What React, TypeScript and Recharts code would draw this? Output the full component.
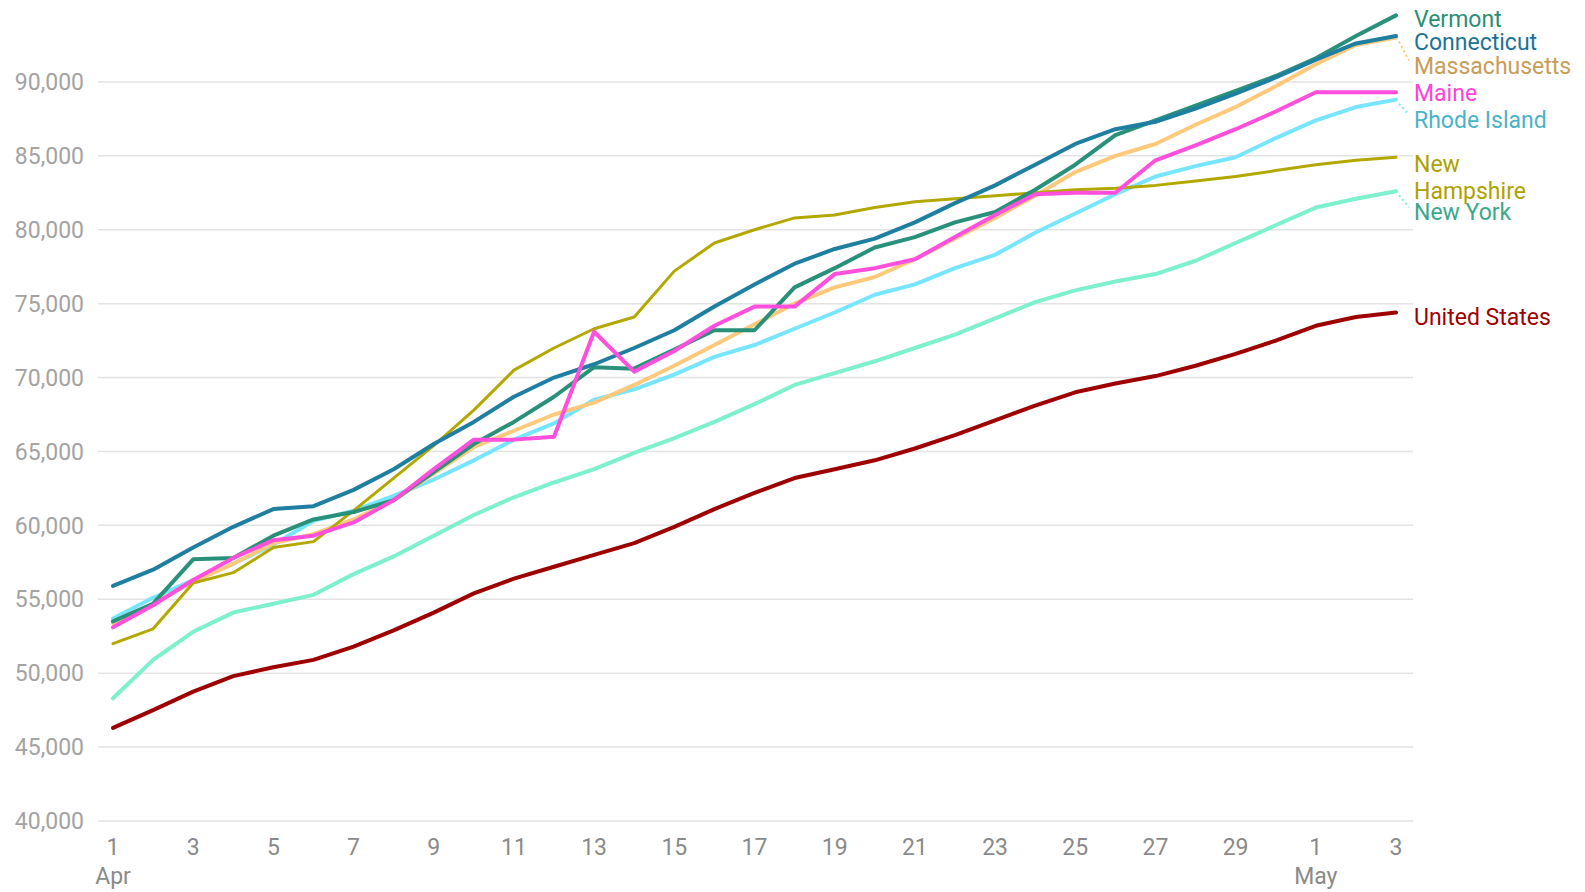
import { CartesianGrid, Line, LineChart, XAxis, YAxis } from "recharts";

const DATES = [
  "Apr 1", "Apr 2", "Apr 3", "Apr 4", "Apr 5", "Apr 6", "Apr 7", "Apr 8", "Apr 9", "Apr 10",
  "Apr 11", "Apr 12", "Apr 13", "Apr 14", "Apr 15", "Apr 16", "Apr 17", "Apr 18", "Apr 19", "Apr 20",
  "Apr 21", "Apr 22", "Apr 23", "Apr 24", "Apr 25", "Apr 26", "Apr 27", "Apr 28", "Apr 29", "Apr 30",
  "May 1", "May 2", "May 3",
];

const VERMONT = [
  53500, 54700, 57700, 57800, 59300, 60400, 60900, 61700, 63600, 65500,
  67000, 68700, 70700, 70600, 71900, 73200, 73200, 76100, 77400, 78800,
  79500, 80500, 81200, 82700, 84400, 86400, 87400, 88400, 89400, 90400,
  91600, 93100, 94500,
];
const CONNECTICUT = [
  55900, 57000, 58500, 59900, 61100, 61300, 62400, 63800, 65500, 67000,
  68700, 70000, 70900, 72000, 73200, 74800, 76300, 77700, 78700, 79400,
  80500, 81800, 83000, 84400, 85800, 86800, 87300, 88200, 89200, 90300,
  91500, 92600, 93100,
];
const MASSACHUSETTS = [
  53400, 54700, 56200, 57400, 58800, 59400, 60400, 61700, 63500, 65300,
  66400, 67500, 68300, 69500, 70800, 72200, 73600, 75000, 76100, 76800,
  78000, 79400, 80800, 82300, 83900, 85000, 85800, 87100, 88300, 89700,
  91200, 92500, 93000,
];
const MAINE = [
  53100, 54600, 56300, 57800, 59000, 59300, 60200, 61700, 63800, 65800,
  65800, 66000, 73100, 70400, 71800, 73500, 74800, 74800, 77000, 77400,
  78000, 79500, 81000, 82400, 82500, 82500, 84700, 85700, 86800, 88000,
  89300, 89300, 89300,
];
const RHODE_ISLAND = [
  53700, 55100, 56300, 57400, 58700, 60300, 61000, 62000, 63100, 64400,
  65800, 66900, 68500, 69200, 70200, 71400, 72200, 73300, 74400, 75600,
  76300, 77400, 78300, 79800, 81100, 82400, 83600, 84300, 84900, 86200,
  87400, 88300, 88800,
];
const NEW_HAMPSHIRE = [
  52000, 53000, 56100, 56800, 58500, 58900, 61000, 63200, 65400, 67800,
  70500, 72000, 73300, 74100, 77200, 79100, 80000, 80800, 81000, 81500,
  81900, 82100, 82300, 82500, 82700, 82800, 83000, 83300, 83600, 84000,
  84400, 84700, 84900,
];
const NEW_YORK = [
  48300, 50900, 52800, 54100, 54700, 55300, 56700, 57900, 59300, 60700,
  61900, 62900, 63800, 64900, 65900, 67000, 68200, 69500, 70300, 71100,
  72000, 72900, 74000, 75100, 75900, 76500, 77000, 77900, 79100, 80300,
  81500, 82100, 82600,
];
const UNITED_STATES = [
  46300, 47500, 48750, 49800, 50400, 50900, 51800, 52900, 54100, 55400,
  56400, 57200, 58000, 58800, 59900, 61100, 62200, 63200, 63800, 64400,
  65200, 66100, 67100, 68100, 69000, 69600, 70100, 70800, 71600, 72500,
  73500, 74100, 74400,
];

const Y_TICKS = [40000, 45000, 50000, 55000, 60000, 65000, 70000, 75000, 80000, 85000, 90000];

// draw order: first is at the bottom
const SERIES = [
  { key: "newYork", name: ["New York"], values: NEW_YORK },
  { key: "rhodeIsland", name: ["Rhode Island"], values: RHODE_ISLAND },
  { key: "massachusetts", name: ["Massachusetts"], values: MASSACHUSETTS },
  { key: "newHampshire", name: ["New", "Hampshire"], values: NEW_HAMPSHIRE },
  { key: "vermont", name: ["Vermont"], values: VERMONT },
  { key: "connecticut", name: ["Connecticut"], values: CONNECTICUT },
  { key: "maine", name: ["Maine"], values: MAINE },
  { key: "unitedStates", name: ["United States"], values: UNITED_STATES },
];

const STYLE: Record<string, { stroke: string; text: string; width: number; dy: number; leader?: boolean }> = {
  newYork: { stroke: "#7df0cd", text: "#3aa98a", width: 4, dy: 21, leader: true },
  rhodeIsland: { stroke: "#78e5ff", text: "#4ab3c8", width: 4, dy: 20, leader: true },
  massachusetts: { stroke: "#ffc97c", text: "#c89d58", width: 4, dy: 28, leader: true },
  newHampshire: { stroke: "#b3a800", text: "#aca200", width: 3, dy: 7 },
  vermont: { stroke: "#29917a", text: "#2a8f74", width: 4, dy: 4 },
  connecticut: { stroke: "#1f7fa1", text: "#1d7396", width: 4, dy: 6 },
  maine: { stroke: "#ff4fdc", text: "#ff42d8", width: 4, dy: 1 },
  unitedStates: { stroke: "#9e0000", text: "#a00000", width: 4, dy: 4 },
};

const FONT = "Roboto, 'Noto Sans', sans-serif";
const FONT_SIZE = 23;

const data = DATES.map((date, i) => {
  const row: Record<string, string | number> = { date };
  SERIES.forEach((s) => {
    row[s.key] = s.values[i];
  });
  return row;
});

function endLabel(key: string, lines: string[]) {
  const st = STYLE[key];
  return (props: any) => {
    const { cx, cy, index } = props;
    if (index !== DATES.length - 1) return <g key={`${key}-${index}`} />;
    const ty = cy + st.dy;
    return (
      <g key={`${key}-end`}>
        {st.leader && (
          <line
            x1={cx + 3}
            y1={cy + 4}
            x2={cx + 13}
            y2={ty - 5}
            stroke={st.stroke}
            strokeWidth={2}
            strokeDasharray="2 3"
          />
        )}
        <text x={cx + 18} y={ty} fill={st.text} fontSize={FONT_SIZE} fontFamily={FONT}>
          {lines.map((l, i) => (
            <tspan key={l} x={cx + 18} dy={i === 0 ? "0.35em" : 27}>
              {l}
            </tspan>
          ))}
        </text>
      </g>
    );
  };
}

function DateTick(props: any) {
  const { x, y, payload } = props;
  const [month, day] = String(payload.value).split(" ");
  return (
    <g>
      <text x={x} y={y + 18} dy="0.71em" textAnchor="middle" fill="#8a8a8a" fontSize={FONT_SIZE} fontFamily={FONT}>
        {day}
      </text>
      {day === "1" && (
        <text x={x} y={y + 47} dy="0.71em" textAnchor="middle" fill="#8a8a8a" fontSize={FONT_SIZE} fontFamily={FONT}>
          {month}
        </text>
      )}
    </g>
  );
}

export default function App() {
  return (
    <div style={{ fontFamily: FONT }}>
      <LineChart width={1569} height={884} data={data} margin={{ top: 0, right: 164, left: 0, bottom: 11 }}>
        <CartesianGrid vertical={false} horizontalValues={Y_TICKS} stroke="#e3e3e3" strokeWidth={1.5} />
        <XAxis
          dataKey="date"
          interval={1}
          tickLine={false}
          axisLine={false}
          tickSize={0}
          tickMargin={0}
          height={60}
          padding={{ left: 15, right: 17 }}
          tick={<DateTick />}
        />
        <YAxis
          domain={[40000, 95000]}
          ticks={Y_TICKS}
          width={90}
          tickLine={false}
          axisLine={false}
          tickSize={0}
          tickMargin={14}
          tickFormatter={(v: number) => v.toLocaleString("en-US")}
          tick={{ fill: "#a3a3a3", fontSize: FONT_SIZE, fontFamily: FONT }}
        />
        {SERIES.map((s) => (
          <Line
            key={s.key}
            dataKey={s.key}
            stroke={STYLE[s.key].stroke}
            strokeWidth={STYLE[s.key].width}
            strokeLinecap="round"
            strokeLinejoin="round"
            dot={endLabel(s.key, s.name)}
            activeDot={false}
            isAnimationActive={false}
          />
        ))}
      </LineChart>
    </div>
  );
}
